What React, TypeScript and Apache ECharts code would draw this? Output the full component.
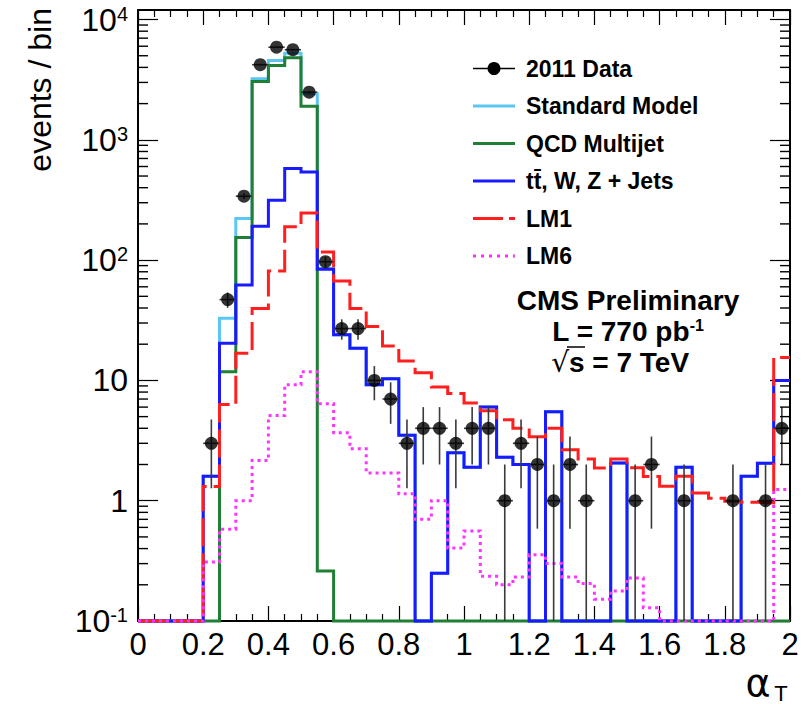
import React, { useEffect, useRef } from "react";
import * as echarts from "echarts";

// ---- binning / axes ----
const BIN_WIDTH = 0.05;
const X_MIN = 0;
const X_MAX = 2;
const X_INTERVAL = 0.2;
const Y_MIN = 0.1;
const Y_MAX = 12000;
const Y_TICK_LABELS: Record<string, string> = {
  "-1": "10{sup|-1}",
  "0": "1",
  "1": "10",
  "2": "10{sup|2}",
  "3": "10{sup|3}",
  "4": "10{sup|4}",
};

// ---- per-bin contents (40 bins of width 0.05 from 0 to 2) ----
const dataCounts = [0, 0, 0, 0, 3, 47, 340, 4210, 5890, 5610, 2490, 97, 27, 27, 10, 7, 3, 4, 4, 3, 4, 4, 1, 3, 2, 1, 2, 1, 0, 0, 1, 2, 0, 1, 0, 0, 1, 0, 1, 4];
const standardModel = [0, 0, 0, 0, 1.6, 32.8, 222, 3220, 4570, 5250, 2420, 85, 24, 18.5, 9.2, 10.3, 3.5, 0, 0.25, 2.5, 1.9, 6.0, 2.3, 2.0, 0, 5.5, 0, 0, 0, 2.06, 0, 0, 0, 1.9, 0, 0, 0, 1.6, 2.05, 10];
const qcdMultijet = [0, 0, 0, 0, 0, 11.8, 154, 3057, 4150, 4810, 1897, 0.26, 0, 0, 0, 0, 0, 0, 0, 0, 0, 0, 0, 0, 0, 0, 0, 0, 0, 0, 0, 0, 0, 0, 0, 0, 0, 0, 0, 0];
const ewkJets = [0, 0, 0, 0, 1.6, 20.4, 62, 191, 315, 577, 541, 84, 24, 18.5, 9.2, 10.3, 3.5, 0, 0.25, 2.5, 1.9, 6.0, 2.3, 2.0, 0, 5.5, 0, 0, 0, 2.06, 0, 0, 0, 1.9, 0, 0, 0, 1.6, 2.05, 10];
const lm1 = [0, 0, 0, 0, 1.31, 6.3, 16.8, 39.7, 81, 189, 247, 117, 67, 39.7, 28, 19.3, 14.5, 11.6, 8.8, 7.8, 6.5, 5.6, 4.7, 4.0, 3.4, 4.0, 2.65, 2.22, 1.87, 2.22, 1.88, 1.59, 1.32, 1.6, 1.16, 1.05, 0.99, 0.97, 0.96, 15.5];
const lm6 = [0, 0, 0, 0, 0.31, 0.58, 1.0, 2.16, 5.1, 9.2, 11.8, 6.4, 3.67, 2.7, 1.7, 1.7, 1.14, 0.7, 1.0, 0.405, 0.56, 0.235, 0.2, 0.232, 0.356, 0.3, 0.232, 0.205, 0.152, 0.178, 0.228, 0.129, 0, 0, 0, 0, 0, 0, 0, 1.24];

const LEGEND_LABELS = ["2011 Data", "Standard Model", "QCD Multijet", "tt\u0304, W, Z + Jets", "LM1", "LM6"];
const CMS_TITLE = "CMS Preliminary";
const LUMI_TEXT = "L = 770 pb";
const LUMI_SUP = "-1";
const ENERGY_TEXT = "s = 7 TeV";

const FONT = "'Liberation Sans', Arial, Helvetica, sans-serif";
const C_SM = "#5cc6f2";
const C_QCD = "#1f7f35";
const C_EWK = "#1a1aff";
const C_LM1 = "#ff1f1f";
const C_LM6 = "#ff33ff";
const DASH_LM1 = [28, 7];
const DASH_LM6 = [3, 4];

function stepData(values: number[]) {
  const pts = values.map((v, i) => [X_MIN + i * BIN_WIDTH, Math.max(v, Y_MIN)]);
  pts.push([X_MIN + values.length * BIN_WIDTH, Math.max(values[values.length - 1], Y_MIN)]);
  return pts;
}

function histSeries(name: string, values: number[], color: string, width: number, type: any, z: number) {
  return {
    type: "line",
    name,
    data: stepData(values),
    step: "end",
    symbol: "none",
    showSymbol: false,
    clip: false,
    silent: true,
    z,
    lineStyle: { color, width, type, cap: "butt", join: "miter" },
  };
}

export default function App() {
  const ref = useRef<HTMLDivElement>(null);

  useEffect(() => {
    document.body.style.margin = "0";
    const chart = echarts.init(ref.current!, null, { renderer: "svg" });

    const pointData = dataCounts
      .map((c, i) => [X_MIN + (i + 0.5) * BIN_WIDTH, c])
      .filter((p) => p[1] > 0);

    const minorY: number[][] = [];
    for (let d = -1; d <= 4; d++) {
      for (let m = 2; m <= 9; m++) {
        const v = m * Math.pow(10, d);
        if (v < Y_MAX) minorY.push([X_MIN, v]);
      }
    }

    const axisLine = { show: true, onZero: false, lineStyle: { color: "#000", width: 2 } };
    const xCommon = {
      type: "value",
      min: X_MIN,
      max: X_MAX,
      interval: X_INTERVAL,
      axisLine,
      axisTick: { show: true, inside: true, length: 15, lineStyle: { color: "#000", width: 1.2 } },
      minorTick: { show: true, splitNumber: 4, length: 7, lineStyle: { color: "#000", width: 1.2 } },
      splitLine: { show: false },
      minorSplitLine: { show: false },
    };
    const yCommon = {
      type: "log",
      logBase: 10,
      min: Y_MIN,
      max: Y_MAX,
      axisLine,
      axisTick: { show: true, inside: true, length: 20, lineStyle: { color: "#000", width: 1.2 } },
      splitLine: { show: false },
    };

    const legendY0 = 68.5;
    const legendDY = 37.5;
    const legendStyles = [
      { color: "#000", width: 1.5, dash: null as any, dot: true },
      { color: C_SM, width: 3, dash: null },
      { color: C_QCD, width: 3, dash: null },
      { color: C_EWK, width: 3, dash: null },
      { color: C_LM1, width: 3, dash: [30, 6] },
      { color: C_LM6, width: 3, dash: [3, 5] },
    ];
    const legendGraphics: any[] = [];
    LEGEND_LABELS.forEach((label, i) => {
      const y = legendY0 + i * legendDY;
      const st: any = legendStyles[i];
      legendGraphics.push({
        type: "line",
        shape: { x1: 473, y1: y, x2: 515, y2: y },
        style: { stroke: st.color, lineWidth: st.width, lineDash: st.dash || undefined },
        silent: true,
      });
      if (st.dot) {
        legendGraphics.push({ type: "circle", shape: { cx: 494, cy: y, r: 6.5 }, style: { fill: "#000" }, silent: true });
      }
      legendGraphics.push({
        type: "text",
        x: 526,
        y,
        style: {
          text: label,
          fontSize: 23,
          fontWeight: "bold",
          fontFamily: FONT,
          fill: "#000",
          textAlign: "left",
          textVerticalAlign: "middle",
          align: "left",
          verticalAlign: "middle",
        },
        silent: true,
      });
    });

    const boldText = (text: string, x: number, y: number, align: string) => ({
      type: "text",
      x,
      y,
      silent: true,
      style: { text, fontSize: 28, fontWeight: "bold", fontFamily: FONT, fill: "#000", textAlign: align, textVerticalAlign: "middle", align, verticalAlign: "middle" },
    });

    const option: any = {
      animation: false,
      backgroundColor: "#fff",
      textStyle: { fontFamily: FONT },
      grid: { left: 138, right: 22, top: 10, bottom: 83, show: false },
      xAxis: [
        {
          ...xCommon,
          position: "bottom",
          axisLabel: { show: true, fontSize: 31, color: "#000", fontFamily: FONT, margin: 8 },
        },
        { ...xCommon, position: "top", axisLabel: { show: false } },
      ],
      yAxis: [
        {
          ...yCommon,
          position: "left",
          axisLabel: {
            show: true,
            fontSize: 32,
            color: "#000",
            fontFamily: FONT,
            margin: 10,
            showMaxLabel: false,
            formatter: (v: number) => {
              const l = Math.log10(v);
              const e = Math.round(l);
              if (Math.abs(l - e) > 0.01) return "";
              return Y_TICK_LABELS[String(e)] ?? "";
            },
            rich: {
              sup: { fontSize: 20, fontFamily: FONT, color: "#000", verticalAlign: "top", lineHeight: 20 },
            },
          },
        },
        { ...yCommon, position: "right", axisLabel: { show: false } },
      ],
      series: [
        histSeries("Standard Model", standardModel, C_SM, 3, "solid", 2),
        histSeries("QCD Multijet", qcdMultijet, C_QCD, 3, "solid", 3),
        histSeries("tt, W, Z + Jets", ewkJets, C_EWK, 3, "solid", 4),
        histSeries("LM1", lm1, C_LM1, 3, DASH_LM1, 5),
        histSeries("LM6", lm6, C_LM6, 3, DASH_LM6, 6),
        {
          type: "custom",
          name: "errors",
          data: pointData,
          z: 7,
          silent: true,
          encode: { x: 0, y: 1 },
          renderItem: (params: any, api: any) => {
            const x = api.value(0);
            const y = api.value(1);
            const e = Math.sqrt(y);
            const lo = Math.max(y - e, Y_MIN);
            const hi = y + e;
            const pLo = api.coord([x, lo]);
            const pHi = api.coord([x, hi]);
            const pL = api.coord([x - BIN_WIDTH / 2, y]);
            const pR = api.coord([x + BIN_WIDTH / 2, y]);
            return {
              type: "group",
              children: [
                { type: "line", shape: { x1: pLo[0], y1: pLo[1], x2: pHi[0], y2: pHi[1] }, style: { stroke: "#3a3a3a", lineWidth: 1.6 } },
                { type: "line", shape: { x1: pL[0], y1: pL[1], x2: pR[0], y2: pR[1] }, style: { stroke: "#3a3a3a", lineWidth: 1.6 } },
              ],
            };
          },
        },
        {
          type: "scatter",
          name: "2011 Data",
          data: pointData,
          symbol: "circle",
          symbolSize: 13,
          itemStyle: { color: "#000" },
          z: 8,
          silent: true,
        },
        {
          type: "custom",
          name: "minorY",
          data: minorY,
          z: 9,
          silent: true,
          encode: { x: 0, y: 1 },
          renderItem: (params: any, api: any) => {
            const v = api.value(1);
            const pL = api.coord([X_MIN, v]);
            const pR = api.coord([X_MAX, v]);
            return {
              type: "group",
              children: [
                { type: "line", shape: { x1: pL[0], y1: pL[1], x2: pL[0] + 10, y2: pL[1] }, style: { stroke: "#000", lineWidth: 1.4 } },
                { type: "line", shape: { x1: pR[0] - 10, y1: pR[1], x2: pR[0], y2: pR[1] }, style: { stroke: "#000", lineWidth: 1.4 } },
              ],
            };
          },
        },
      ],
      graphic: [
        ...legendGraphics,
        boldText(CMS_TITLE, 628, 300, "center"),
        {
          type: "text",
          x: 628,
          y: 331,
          silent: true,
          style: {
            text: "{a|" + LUMI_TEXT + "}{s|" + LUMI_SUP + "}",
            rich: {
              a: { fontSize: 28, fontWeight: "bold", fontFamily: FONT, color: "#000" },
              s: { fontSize: 16, fontWeight: "bold", fontFamily: FONT, color: "#000", verticalAlign: "top", lineHeight: 16 },
            },
            textAlign: "center",
            textVerticalAlign: "middle",
            align: "center",
            verticalAlign: "middle",
          },
        },
        // radical sign, overline, and the rest of the energy label
        {
          type: "text",
          x: 569,
          y: 362,
          silent: true,
          style: { text: "\u221A", fontSize: 28, fontFamily: "'DejaVu Sans', sans-serif", fill: "#000", textAlign: "right", textVerticalAlign: "middle", align: "right", verticalAlign: "middle" },
        },
        {
          type: "line",
          silent: true,
          shape: { x1: 567, y1: 347, x2: 585, y2: 347 },
          style: { stroke: "#000", lineWidth: 1.5 },
        },
        boldText(ENERGY_TEXT, 569, 362, "left"),
        {
          type: "text",
          x: 40,
          y: 8,
          rotation: Math.PI / 2,
          silent: true,
          style: { text: "events / bin", fontSize: 32, fontFamily: FONT, fill: "#000", textAlign: "right", textVerticalAlign: "middle", align: "right", verticalAlign: "middle" },
        },
        {
          type: "text",
          x: 758,
          y: 683,
          silent: true,
          style: { text: "\u03B1", fontSize: 38, fontFamily: "'DejaVu Sans', sans-serif", fill: "#000", textAlign: "center", textVerticalAlign: "middle", align: "center", verticalAlign: "middle" },
        },
        {
          type: "text",
          x: 781,
          y: 693,
          silent: true,
          style: { text: "T", fontSize: 22, fontFamily: FONT, fill: "#000", textAlign: "center", textVerticalAlign: "middle", align: "center", verticalAlign: "middle" },
        },
      ],
    };

    chart.setOption(option);
    return () => chart.dispose();
  }, []);

  return <div ref={ref} style={{ width: 812, height: 704, background: "#fff" }} />;
}
